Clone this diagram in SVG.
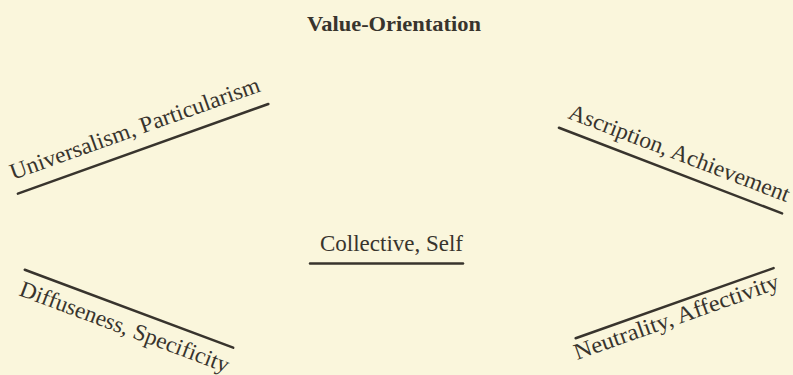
<svg xmlns="http://www.w3.org/2000/svg" width="793" height="375" viewBox="0 0 793 375">
<style>
.t{font-family:"Liberation Serif","Times New Roman",serif;font-size:23px;fill:#38342d;}
.h{font-weight:bold;font-size:22px;}
.u{stroke:#38342d;stroke-width:2.5;fill:none;stroke-linecap:round;}
</style>
<rect width="793" height="375" fill="#faf6dc"/>
<g id="value-orientation">
<text class="t h" x="307" y="31" textLength="174" lengthAdjust="spacingAndGlyphs">Value-Orientation</text>
</g>
<g id="universalism-particularism" transform="translate(13,180) rotate(-19.7)">
<text class="t" x="0" y="0" textLength="264" lengthAdjust="spacingAndGlyphs">Universalism, Particularism</text>
<line class="u" x1="0" y1="14.5" x2="266" y2="14.5"/>
</g>
<g id="ascription-achievement" transform="translate(567,118) rotate(21)">
<text class="t" x="0" y="0" textLength="235" lengthAdjust="spacingAndGlyphs">Ascription, Achievement</text>
<line class="u" x1="-4" y1="12" x2="235" y2="12"/>
</g>
<g id="collective-self">
<text class="t" x="320" y="251" textLength="143" lengthAdjust="spacingAndGlyphs">Collective, Self</text>
<line class="u" x1="310" y1="263.5" x2="463" y2="263.5"/>
</g>
<g id="diffuseness-specificity" transform="translate(18,295) rotate(20.5)">
<text class="t" x="0" y="0" textLength="222" lengthAdjust="spacingAndGlyphs">Diffuseness, Specificity</text>
<line class="u" x1="-2.5" y1="-26" x2="220" y2="-26"/>
</g>
<g id="neutrality-affectivity" transform="translate(577,360) rotate(-19.5)">
<text class="t" x="0" y="0" textLength="216" lengthAdjust="spacingAndGlyphs">Neutrality, Affectivity</text>
<line class="u" x1="6" y1="-21" x2="216" y2="-21"/>
</g>
</svg>
